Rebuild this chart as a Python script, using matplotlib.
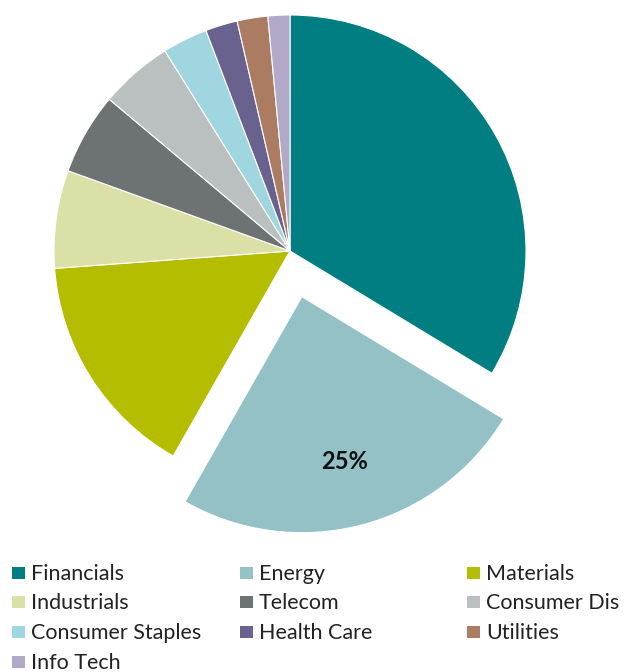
import numpy as np
import matplotlib
matplotlib.use("Agg")
import matplotlib.pyplot as plt
from matplotlib.patches import Rectangle

# Доли секторов (%)
sectors = ["Financials", "Energy", "Materials", "Industrials", "Telecom",
           "Consumer Dis", "Consumer Staples", "Health Care", "Utilities", "Info Tech"]
shares = [33.7, 24.6, 15.6, 6.7, 5.6, 5.0, 3.1, 2.2, 2.1, 1.5]
colors = ["#007E82", "#93C1C6", "#B5BD00", "#DAE0A6", "#6D7373",
          "#BABFBF", "#A0D6DF", "#6A628E", "#AB7C62", "#B2A8C8"]
explode = [0, 0.2, 0, 0, 0, 0, 0, 0, 0, 0]
label_text = "25%"

plt.rcParams['font.family'] = ['Lato', 'DejaVu Sans']

W, H = 626, 672
fig = plt.figure(figsize=(W / 100, H / 100), dpi=100)
ax = fig.add_axes([0, 0, 1, 1])

R = 236.0   # радиус в пикселях
cx, cy = 290.0, 251.0  # центр пирога в пикселях (от верхнего левого угла)

wedges, _ = ax.pie(shares, colors=colors, explode=explode, startangle=90,
                   counterclock=False, radius=1,
                   wedgeprops=dict(edgecolor="white", linewidth=0.8))
ax.set_xlim(-cx / R, (W - cx) / R)
ax.set_ylim(-(H - cy) / R, cy / R)
ax.set_aspect('equal')
ax.axis('off')

# подпись на выдвинутом секторе
w = wedges[1]
th = np.deg2rad((w.theta1 + w.theta2) / 2)
ax.text(w.center[0] + 0.72 * np.cos(th), w.center[1] + 0.72 * np.sin(th), label_text,
        ha="center", va="center", fontsize=17, fontweight="bold", color="#111111")

# легенда вручную: 3 колонки фиксированной ширины как в Excel
col_x = [12, 240, 467]
row_y = [573, 602, 632, 662]
for i, (name, c) in enumerate(zip(sectors, colors)):
    r, k = divmod(i, 3)
    x0, y0 = col_x[k], row_y[r]
    fig.patches.append(Rectangle((x0 / W, 1 - (y0 + 6) / H), 13 / W, 12 / H,
                                 transform=fig.transFigure, facecolor=c,
                                 edgecolor="none"))
    fig.text((x0 + 19) / W, 1 - (y0 + 1) / H, name, ha="left", va="center",
             fontsize=15.5, color="#222222")

fig.savefig("out.png", dpi=100)
